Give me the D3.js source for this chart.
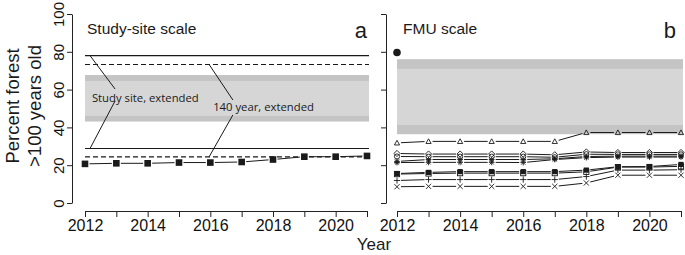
<!DOCTYPE html>
<html>
<head>
<meta charset="utf-8">
<script src="https://cdn.jsdelivr.net/npm/d3@7"></script>
<style>
  body { margin: 0; background: #fff; }
  svg { display: block; font-family: "Liberation Sans", Arial, sans-serif; }
  .axis path, .axis line { stroke: #222; stroke-width: 1; }
  .axis text { font-size: 16px; fill: #111; font-family: "Liberation Sans", Arial, sans-serif; }
</style>
</head>
<body>
<svg id="chart" width="685" height="255"></svg>
<script>
// ---- data ----
const years = [2012, 2013, 2014, 2015, 2016, 2017, 2018, 2019, 2020, 2021];
const yTicks = [0, 20, 40, 60, 80, 100];

// panel a: study-site scale
const studySite = [20.7, 21.0, 21.0, 21.4, 21.4, 21.7, 23.0, 24.5, 24.5, 24.9];
const bandOuterA = [43.1, 67.7];
const bandInnerA = [46.1, 64.6];
const siteExtHi = 78.0, siteExtLo = 28.8;   // solid lines
const ext140Hi = 73.3, ext140Lo = 24.4;     // dashed lines

// panel b: FMU scale
const bandOuterB = [36.4, 76.1];
const bandInnerB = [41.3, 71.0];
const fmuPoint2012 = 79.6;
const fmuTriangle = [31.8, 32.6, 32.6, 32.6, 32.6, 32.6, 37.3, 37.3, 37.3, 37.3];
const fmuDiamond  = [26.2, 25.9, 25.9, 25.9, 25.9, 25.5, 27.0, 26.7, 26.7, 26.7];
const fmuCircle   = [24.6, 24.5, 24.5, 24.5, 24.5, 24.2, 25.8, 25.7, 25.7, 25.7];
const fmuStar     = [22.0, 23.0, 23.0, 23.0, 23.0, 23.4, 24.6, 24.8, 24.8, 24.8];
const fmuStar2    = [21.4, 21.5, 21.5, 21.5, 21.4, 23.0, 24.0, 24.3, 24.3, 24.3];
const fmuSquare   = [15.3, 15.6, 15.8, 15.8, 15.8, 15.8, 16.5, 19.0, 19.0, 19.4];
const fmuFilledSq = [15.6, 16.2, 16.6, 16.6, 16.6, 16.6, 17.4, 19.2, 19.3, 20.4];
const fmuPlus     = [11.9, 12.4, 12.4, 12.4, 12.4, 12.4, 14.0, 17.4, 17.4, 17.6];
const fmuCross    = [8.6, 8.8, 8.8, 8.8, 8.8, 8.8, 10.6, 14.7, 14.7, 14.7];

const fmuSeries = [
  { values: fmuTriangle, shape: "triangle" },
  { values: fmuDiamond, shape: "diamond" },
  { values: fmuCircle, shape: "circle" },
  { values: fmuStar, shape: "star" },
  { values: fmuStar2, shape: "star" },
  { values: fmuSquare, shape: "square" },
  { values: fmuFilledSq, shape: "filledSquare" },
  { values: fmuPlus, shape: "plus" },
  { values: fmuCross, shape: "cross" }
];

const svg = d3.select("#chart");
const ink = "#1a1a1a";

const y = d3.scaleLinear().domain([0, 100]).range([203, 14]);
const xA = d3.scaleLinear().domain([2012, 2021]).range([85, 367]);
const xB = d3.scaleLinear().domain([2012, 2021]).range([397, 681]);

function drawAxes(x, axisX, showYLabels) {
  const xAxis = d3.axisBottom(x)
    .tickValues(years)
    .tickSize(6)
    .tickSizeOuter(0)
    .tickPadding(3)
    .tickFormat(d => d % 2 === 0 ? d : "");
  svg.append("g").attr("class", "axis")
    .attr("transform", "translate(0,211)")
    .call(xAxis);

  const yAxis = d3.axisLeft(y)
    .tickValues(yTicks)
    .tickSize(5)
    .tickSizeOuter(0)
    .tickFormat(showYLabels ? d => d : "");
  const ga = svg.append("g").attr("class", "axis")
    .attr("transform", `translate(${axisX},0)`)
    .call(yAxis);
  ga.selectAll("text")
    .attr("transform", "rotate(-90)")
    .attr("x", 0).attr("y", -8).attr("dy", 0)
    .attr("text-anchor", "middle")
    .style("font-size", "15px");
}

function band(x, lo, hi, color) {
  svg.append("rect")
    .attr("x", x(2012)).attr("width", x(2021) - x(2012) + 2)
    .attr("y", y(hi)).attr("height", y(lo) - y(hi))
    .attr("fill", color);
}

// joins points like R type="b": segments stop short of the symbols
function gappedLine(x, values, gap) {
  const pts = values.map((v, i) => [x(years[i]), y(v)]);
  d3.pairs(pts).forEach(([p, q]) => {
    const dx = q[0] - p[0], dy = q[1] - p[1];
    const len = Math.hypot(dx, dy);
    if (len <= 2 * gap) return;
    const ux = dx / len, uy = dy / len;
    svg.append("line")
      .attr("x1", p[0] + ux * gap).attr("y1", p[1] + uy * gap)
      .attr("x2", q[0] - ux * gap).attr("y2", q[1] - uy * gap)
      .attr("stroke", ink).attr("stroke-width", 1);
  });
}

function symbol(cx, cy, shape) {
  const g = svg.append("g").attr("transform", `translate(${cx},${cy})`)
    .attr("stroke", ink).attr("stroke-width", 0.9).attr("fill", "none");
  const s = 2.6;
  if (shape === "triangle") {
    g.append("path").attr("d", `M0,${-s}L${s},${s * 0.8}L${-s},${s * 0.8}Z`);
  } else if (shape === "circle") {
    g.append("circle").attr("r", s);
  } else if (shape === "diamond") {
    g.append("path").attr("d", `M0,${-s * 1.2}L${s * 1.2},0L0,${s * 1.2}L${-s * 1.2},0Z`);
  } else if (shape === "square") {
    g.append("rect").attr("x", -s).attr("y", -s).attr("width", 2 * s).attr("height", 2 * s);
  } else if (shape === "filledSquare") {
    g.append("rect").attr("x", -s).attr("y", -s).attr("width", 2 * s).attr("height", 2 * s)
      .attr("fill", ink).attr("stroke", "none");
  } else if (shape === "plus") {
    g.append("path").attr("d", `M${-s * 1.2},0H${s * 1.2}M0,${-s * 1.2}V${s * 1.2}`);
  } else if (shape === "cross") {
    g.append("path").attr("d", `M${-s},${-s}L${s},${s}M${-s},${s}L${s},${-s}`);
  } else if (shape === "star") {
    g.append("path").attr("d",
      `M${-s * 1.1},0H${s * 1.1}M0,${-s * 1.1}V${s * 1.1}M${-s * 0.8},${-s * 0.8}L${s * 0.8},${s * 0.8}M${-s * 0.8},${s * 0.8}L${s * 0.8},${-s * 0.8}`);
  }
}

// ---------------- panel a ----------------
band(xA, bandOuterA[0], bandOuterA[1], "#c4c4c4");
band(xA, bandInnerA[0], bandInnerA[1], "#d6d6d6");

function hline(x, v, dashed) {
  svg.append("line")
    .attr("x1", x(2012)).attr("x2", x(2021) + 2)
    .attr("y1", y(v)).attr("y2", y(v))
    .attr("stroke", ink).attr("stroke-width", 1.1)
    .attr("stroke-dasharray", dashed ? "5,3" : null);
}
hline(xA, siteExtHi, false);
hline(xA, siteExtLo, false);
hline(xA, ext140Hi, true);
hline(xA, ext140Lo, true);

// leader lines for the labels
function leader(x0, v0, x1, v1) {
  svg.append("line")
    .attr("x1", xA(x0)).attr("y1", y(v0))
    .attr("x2", xA(x1)).attr("y2", y(v1))
    .attr("stroke", ink).attr("stroke-width", 1);
}
leader(2012.16, siteExtHi, 2012.96, 60.3);
leader(2012.96, 54.0, 2012.16, siteExtLo);
leader(2015.96, ext140Hi, 2016.72, 54.5);
leader(2016.72, 46.6, 2015.96, ext140Lo);

svg.append("text").attr("x", xA(2012.22)).attr("y", y(53.4))
  .style("font-family", "'Open Sans', sans-serif").style("font-size", "11.3px")
  .attr("fill", ink).text("Study site, extended");
svg.append("text").attr("x", xA(2016.09)).attr("y", y(48.7))
  .style("font-family", "'Open Sans', sans-serif").style("font-size", "11.3px")
  .attr("fill", ink).text("140 year, extended");

gappedLine(xA, studySite, 4.5);
svg.selectAll(".sqA").data(studySite).enter().append("rect")
  .attr("class", "sqA")
  .attr("x", (d, i) => xA(years[i]) - 3.3).attr("y", d => y(d) - 3.3)
  .attr("width", 6.6).attr("height", 6.6).attr("fill", ink);

drawAxes(xA, 72, true);

svg.append("text").attr("x", 87).attr("y", 34)
  .style("font-size", "15.5px").attr("fill", ink).text("Study-site scale");
svg.append("text").attr("x", 367).attr("y", 38).attr("text-anchor", "end")
  .style("font-size", "22px").attr("fill", ink).text("a");

// ---------------- panel b ----------------
band(xB, bandOuterB[0], bandOuterB[1], "#c4c4c4");
band(xB, bandInnerB[0], bandInnerB[1], "#d6d6d6");

fmuSeries.forEach(s => gappedLine(xB, s.values, 4));
fmuSeries.forEach(s => s.values.forEach((v, i) => symbol(xB(years[i]), y(v), s.shape)));

svg.append("circle").attr("cx", xB(2012)).attr("cy", y(fmuPoint2012))
  .attr("r", 3.8).attr("fill", ink);

drawAxes(xB, 386, false);

svg.append("text").attr("x", 403).attr("y", 34)
  .style("font-size", "15.5px").attr("fill", ink).text("FMU scale");
svg.append("text").attr("x", 676).attr("y", 38).attr("text-anchor", "end")
  .style("font-size", "22px").attr("fill", ink).text("b");

// ---------------- shared labels ----------------
const yl = svg.append("text").attr("transform", "translate(19,106) rotate(-90)")
  .attr("text-anchor", "middle").style("font-size", "18.5px").attr("fill", ink);
yl.append("tspan").attr("x", 0).attr("y", 0).text("Percent forest");
yl.append("tspan").attr("x", 0).attr("y", 22).text(">100 years old");

svg.append("text").attr("x", 374).attr("y", 250).attr("text-anchor", "middle")
  .style("font-size", "17px").attr("fill", ink).text("Year");
</script>
</body>
</html>
